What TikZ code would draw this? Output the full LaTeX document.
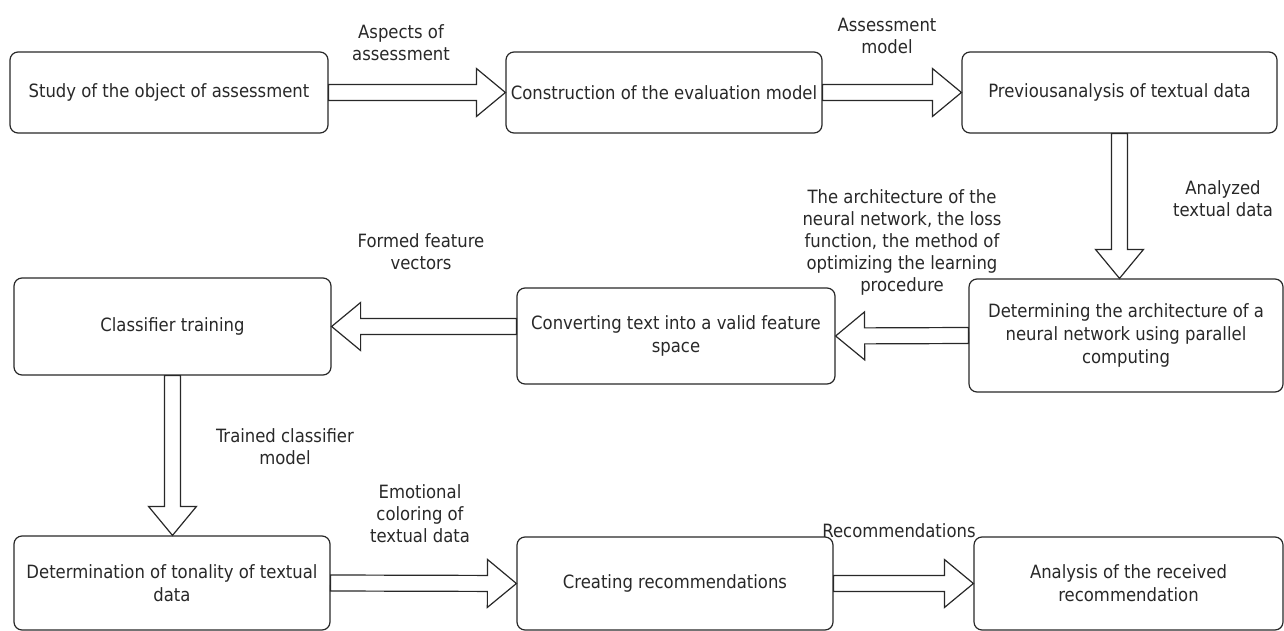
\documentclass[tikz,border=0pt]{standalone}
\usepackage{fontspec}
\setmainfont{DejaVu Sans Condensed}
\usepackage{tikz}
\usetikzlibrary{calc}
\definecolor{charcoal}{RGB}{40, 40, 40}
\tikzset{
  stage/.style={draw=charcoal, line width=1.2pt, rounded corners=8pt, align=center,
                inner sep=2pt, text=charcoal, font=\fontsize{18.3}{23}\selectfont},
  note/.style={align=center, inner sep=0pt, text=charcoal, font=\fontsize{18.3}{22}\selectfont},
  % hollow block arrow from start to target
  blockarrow/.style={draw=charcoal, line width=1.2pt, fill=white, to path={
      let \p1=(\tikztostart), \p2=(\tikztotarget),
          \n1={veclen(\x2-\x1,\y2-\y1)},
          \n2={(\x2-\x1)/\n1}, \n3={(\y2-\y1)/\n1}
      in ({\x1-8pt*\n3},{\y1+8pt*\n2})
      -- ({\x2-29pt*\n2-8pt*\n3},{\y2-29pt*\n3+8pt*\n2})
      -- ({\x2-29pt*\n2-24pt*\n3},{\y2-29pt*\n3+24pt*\n2})
      -- (\p2)
      -- ({\x2-29pt*\n2+24pt*\n3},{\y2-29pt*\n3-24pt*\n2})
      -- ({\x2-29pt*\n2+8pt*\n3},{\y2-29pt*\n3-8pt*\n2})
      -- ({\x1+8pt*\n3},{\y1-8pt*\n2}) -- cycle}}
}

\begin{document}
\begin{tikzpicture}[x=1pt, y=-1pt]
    % Frame to fix the page size
    \useasboundingbox (0,0) rectangle (1284,631);
    % First row
    \node[stage, minimum width=318pt, minimum height=81pt]  (study)    at ( 169.0, 92.5) {Study of the object of assessment};
    \node[stage, minimum width=316pt, minimum height=81pt]  (model)    at ( 664.0, 92.5) {Construction of the evaluation model};
    \node[stage, minimum width=315pt, minimum height=81pt]  (previous) at (1119.5, 92.5) {Previousanalysis of textual data};
    % Second row
    \node[stage, minimum width=314pt, minimum height=113pt] (archit)   at (1126.0,335.5) {Determining the architecture of a\\neural network using parallel\\computing};
    \node[stage, minimum width=318pt, minimum height=96pt]  (convert)  at ( 676.0,336.0) {Converting text into a valid feature\\space};
    \node[stage, minimum width=317pt, minimum height=97pt]  (train)    at ( 172.5,326.5) {Classifier training};
    % Third row
    \node[stage, minimum width=316pt, minimum height=94pt]  (tonality) at ( 172.0,583.0) {Determination of tonality of textual\\data};
    \node[stage, minimum width=316pt, minimum height=93pt]  (creating) at ( 675.0,583.5) {Creating recommendations};
    \node[stage, minimum width=309pt, minimum height=93pt]  (received) at (1128.5,583.5) {Analysis of the received\\recommendation};
    % Block arrows
    \draw[blockarrow] (study.east)     to (model.west);
    \draw[blockarrow] (model.east)     to (previous.west);
    \draw[blockarrow] (previous.south) to (previous.south |- archit.north);
    \draw[blockarrow] (archit.west)    to (convert.east);
    \draw[blockarrow] (convert.west |- train.east) to (train.east);
    \draw[blockarrow] (train.south)    to (train.south |- tonality.north);
    \draw[blockarrow] (tonality.east)  to (creating.west);
    \draw[blockarrow] (creating.east)  to (received.west);
    % Arrow labels
    \node[note] (aspects)  at ( 401, 42.5) {Aspects of\\assessment};
    \node[note] (asmodel)  at ( 887, 36.0) {Assessment\\model};
    \node[note] (analyzed) at (1223,198.5) {Analyzed\\textual data};
    \node[note] (netparts) at ( 902,242.0) {The architecture of the\\neural network, the loss\\function, the method of\\optimizing the learning\\procedure};
    \node[note] (vectors)  at ( 421,251.5) {Formed feature\\vectors};
    \node[note] (trained)  at ( 285,447.0) {Trained classifier\\model};
    \node[note] (coloring) at ( 420,514.0) {Emotional\\coloring of\\textual data};
    \node[note] (recomm)   at ( 899,531.0) {Recommendations};
\end{tikzpicture}
\end{document}
